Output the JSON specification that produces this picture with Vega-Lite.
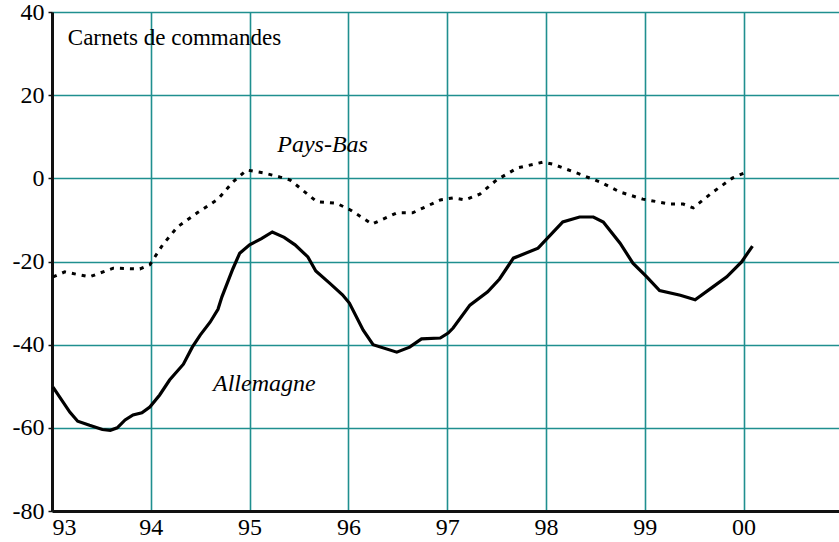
{
  "$schema": "https://vega.github.io/schema/vega-lite/v6.json",
  "width": 787,
  "height": 499,
  "autosize": "none",
  "padding": {"left": 52, "top": 12, "right": 0, "bottom": 28},
  "background": "white",
  "config": {
    "view": {"stroke": null},
    "font": "Liberation Serif"
  },
  "datasets": {
    "series": [
      {"pays": "Allemagne", "annee": 93.01, "valeur": -50.2},
      {"pays": "Allemagne", "annee": 93.18, "valeur": -56.2},
      {"pays": "Allemagne", "annee": 93.26, "valeur": -58.4},
      {"pays": "Allemagne", "annee": 93.38, "valeur": -59.4},
      {"pays": "Allemagne", "annee": 93.51, "valeur": -60.4},
      {"pays": "Allemagne", "annee": 93.59, "valeur": -60.6},
      {"pays": "Allemagne", "annee": 93.66, "valeur": -60.0},
      {"pays": "Allemagne", "annee": 93.74, "valeur": -58.1},
      {"pays": "Allemagne", "annee": 93.82, "valeur": -56.9},
      {"pays": "Allemagne", "annee": 93.91, "valeur": -56.4},
      {"pays": "Allemagne", "annee": 93.99, "valeur": -55.0},
      {"pays": "Allemagne", "annee": 94.09, "valeur": -52.1},
      {"pays": "Allemagne", "annee": 94.19, "valeur": -48.5},
      {"pays": "Allemagne", "annee": 94.33, "valeur": -44.7},
      {"pays": "Allemagne", "annee": 94.42, "valeur": -40.6},
      {"pays": "Allemagne", "annee": 94.50, "valeur": -37.7},
      {"pays": "Allemagne", "annee": 94.60, "valeur": -34.6},
      {"pays": "Allemagne", "annee": 94.68, "valeur": -31.5},
      {"pays": "Allemagne", "annee": 94.72, "valeur": -28.5},
      {"pays": "Allemagne", "annee": 94.83, "valeur": -21.8},
      {"pays": "Allemagne", "annee": 94.90, "valeur": -18.0},
      {"pays": "Allemagne", "annee": 95.00, "valeur": -16.0},
      {"pays": "Allemagne", "annee": 95.12, "valeur": -14.5},
      {"pays": "Allemagne", "annee": 95.23, "valeur": -12.9},
      {"pays": "Allemagne", "annee": 95.35, "valeur": -14.2},
      {"pays": "Allemagne", "annee": 95.46, "valeur": -16.0},
      {"pays": "Allemagne", "annee": 95.59, "valeur": -18.9},
      {"pays": "Allemagne", "annee": 95.67, "valeur": -22.3},
      {"pays": "Allemagne", "annee": 95.81, "valeur": -25.2},
      {"pays": "Allemagne", "annee": 95.94, "valeur": -28.0},
      {"pays": "Allemagne", "annee": 96.01, "valeur": -30.0},
      {"pays": "Allemagne", "annee": 96.15, "valeur": -36.5},
      {"pays": "Allemagne", "annee": 96.25, "valeur": -40.0},
      {"pays": "Allemagne", "annee": 96.49, "valeur": -41.8},
      {"pays": "Allemagne", "annee": 96.62, "valeur": -40.6},
      {"pays": "Allemagne", "annee": 96.74, "valeur": -38.6},
      {"pays": "Allemagne", "annee": 96.93, "valeur": -38.4},
      {"pays": "Allemagne", "annee": 97.01, "valeur": -37.2},
      {"pays": "Allemagne", "annee": 97.06, "valeur": -36.0},
      {"pays": "Allemagne", "annee": 97.23, "valeur": -30.5},
      {"pays": "Allemagne", "annee": 97.41, "valeur": -27.3},
      {"pays": "Allemagne", "annee": 97.53, "valeur": -24.2},
      {"pays": "Allemagne", "annee": 97.67, "valeur": -19.2},
      {"pays": "Allemagne", "annee": 97.92, "valeur": -16.8},
      {"pays": "Allemagne", "annee": 98.17, "valeur": -10.5},
      {"pays": "Allemagne", "annee": 98.34, "valeur": -9.3},
      {"pays": "Allemagne", "annee": 98.48, "valeur": -9.3},
      {"pays": "Allemagne", "annee": 98.58, "valeur": -10.5},
      {"pays": "Allemagne", "annee": 98.75, "valeur": -15.6},
      {"pays": "Allemagne", "annee": 98.88, "valeur": -20.4},
      {"pays": "Allemagne", "annee": 99.02, "valeur": -23.7},
      {"pays": "Allemagne", "annee": 99.15, "valeur": -27.0},
      {"pays": "Allemagne", "annee": 99.36, "valeur": -28.1},
      {"pays": "Allemagne", "annee": 99.51, "valeur": -29.2},
      {"pays": "Allemagne", "annee": 99.69, "valeur": -26.1},
      {"pays": "Allemagne", "annee": 99.83, "valeur": -23.7},
      {"pays": "Allemagne", "annee": 99.98, "valeur": -20.1},
      {"pays": "Allemagne", "annee": 100.09, "valeur": -16.3},
      {"pays": "Pays-Bas", "annee": 93.01, "valeur": -23.7},
      {"pays": "Pays-Bas", "annee": 93.13, "valeur": -22.5},
      {"pays": "Pays-Bas", "annee": 93.38, "valeur": -23.7},
      {"pays": "Pays-Bas", "annee": 93.62, "valeur": -21.6},
      {"pays": "Pays-Bas", "annee": 93.89, "valeur": -21.8},
      {"pays": "Pays-Bas", "annee": 93.99, "valeur": -20.8},
      {"pays": "Pays-Bas", "annee": 94.12, "valeur": -16.0},
      {"pays": "Pays-Bas", "annee": 94.27, "valeur": -11.7},
      {"pays": "Pays-Bas", "annee": 94.47, "valeur": -8.3},
      {"pays": "Pays-Bas", "annee": 94.68, "valeur": -5.0},
      {"pays": "Pays-Bas", "annee": 94.83, "valeur": -0.9},
      {"pays": "Pays-Bas", "annee": 94.97, "valeur": 2.0},
      {"pays": "Pays-Bas", "annee": 95.14, "valeur": 1.3},
      {"pays": "Pays-Bas", "annee": 95.31, "valeur": 0.3},
      {"pays": "Pays-Bas", "annee": 95.41, "valeur": -0.4},
      {"pays": "Pays-Bas", "annee": 95.68, "valeur": -5.6},
      {"pays": "Pays-Bas", "annee": 95.88, "valeur": -6.0},
      {"pays": "Pays-Bas", "annee": 96.02, "valeur": -7.6},
      {"pays": "Pays-Bas", "annee": 96.24, "valeur": -11.0},
      {"pays": "Pays-Bas", "annee": 96.49, "valeur": -8.3},
      {"pays": "Pays-Bas", "annee": 96.65, "valeur": -8.3},
      {"pays": "Pays-Bas", "annee": 96.93, "valeur": -5.2},
      {"pays": "Pays-Bas", "annee": 97.06, "valeur": -4.7},
      {"pays": "Pays-Bas", "annee": 97.18, "valeur": -5.2},
      {"pays": "Pays-Bas", "annee": 97.33, "valeur": -3.8},
      {"pays": "Pays-Bas", "annee": 97.50, "valeur": -0.4},
      {"pays": "Pays-Bas", "annee": 97.71, "valeur": 2.5},
      {"pays": "Pays-Bas", "annee": 97.97, "valeur": 3.9},
      {"pays": "Pays-Bas", "annee": 98.07, "valeur": 3.4},
      {"pays": "Pays-Bas", "annee": 98.31, "valeur": 1.3},
      {"pays": "Pays-Bas", "annee": 98.55, "valeur": -0.9},
      {"pays": "Pays-Bas", "annee": 98.75, "valeur": -3.3},
      {"pays": "Pays-Bas", "annee": 98.98, "valeur": -5.0},
      {"pays": "Pays-Bas", "annee": 99.26, "valeur": -6.2},
      {"pays": "Pays-Bas", "annee": 99.39, "valeur": -6.2},
      {"pays": "Pays-Bas", "annee": 99.49, "valeur": -7.1},
      {"pays": "Pays-Bas", "annee": 99.69, "valeur": -3.3},
      {"pays": "Pays-Bas", "annee": 99.89, "valeur": 0.1},
      {"pays": "Pays-Bas", "annee": 100.01, "valeur": 1.3}
    ],
    "titre": [
      {"texte": "Carnets de commandes", "annee": 93.16, "valeur": 33.7}
    ],
    "etiquettes": [
      {"texte": "Pays-Bas", "annee": 95.28, "valeur": 8.0},
      {"texte": "Allemagne", "annee": 94.63, "valeur": -49.4}
    ]
  },
  "encoding": {
    "x": {
      "field": "annee", "type": "quantitative",
      "scale": {"domain": [93, 100.966], "nice": false, "zero": false},
      "axis": {
        "values": [93, 94, 95, 96, 97, 98, 99, 100],
        "labelExpr": "datum.value == 100 ? '00' : datum.value + ''",
        "title": null,
        "labelFont": "Liberation Serif", "labelFontSize": 24, "labelColor": "black",
        "grid": true, "gridColor": "#1f8f8f", "gridWidth": 1.6, "gridOpacity": 1,
        "ticks": false,
        "domainColor": "#111111", "domainWidth": 3,
        "labelPadding": 4
      }
    },
    "y": {
      "field": "valeur", "type": "quantitative",
      "scale": {"domain": [-80, 40], "nice": false, "zero": false},
      "axis": {
        "values": [-80, -60, -40, -20, 0, 20, 40],
        "labelExpr": "datum.value + ''",
        "title": null,
        "labelFont": "Liberation Serif", "labelFontSize": 24, "labelColor": "black",
        "grid": true, "gridColor": "#1f8f8f", "gridWidth": 1.6, "gridOpacity": 1,
        "ticks": true, "tickSize": 4, "tickColor": "#111111", "tickWidth": 1.5,
        "domainColor": "#111111", "domainWidth": 3,
        "labelPadding": 4
      }
    }
  },
  "layer": [
    {
      "data": {"values": [{}]},
      "mark": {"type": "rule", "color": "#1e5e5e", "strokeWidth": 3},
      "encoding": {"y": {"datum": 40}, "x": null}
    },
    {
      "data": {"name": "series"},
      "transform": [{"filter": "datum.pays == 'Pays-Bas'"}],
      "mark": {"type": "line", "color": "black", "strokeWidth": 3, "strokeDash": [4, 6]}
    },
    {
      "data": {"name": "series"},
      "transform": [{"filter": "datum.pays == 'Allemagne'"}],
      "mark": {"type": "line", "color": "black", "strokeWidth": 3.2}
    },
    {
      "data": {"name": "titre"},
      "mark": {"type": "text", "align": "left", "baseline": "middle", "font": "Liberation Serif", "fontSize": 23, "color": "black"},
      "encoding": {"text": {"field": "texte"}}
    },
    {
      "data": {"name": "etiquettes"},
      "mark": {"type": "text", "align": "left", "baseline": "middle", "font": "Liberation Serif", "fontSize": 24, "fontStyle": "italic", "color": "black"},
      "encoding": {"text": {"field": "texte"}}
    }
  ]
}
